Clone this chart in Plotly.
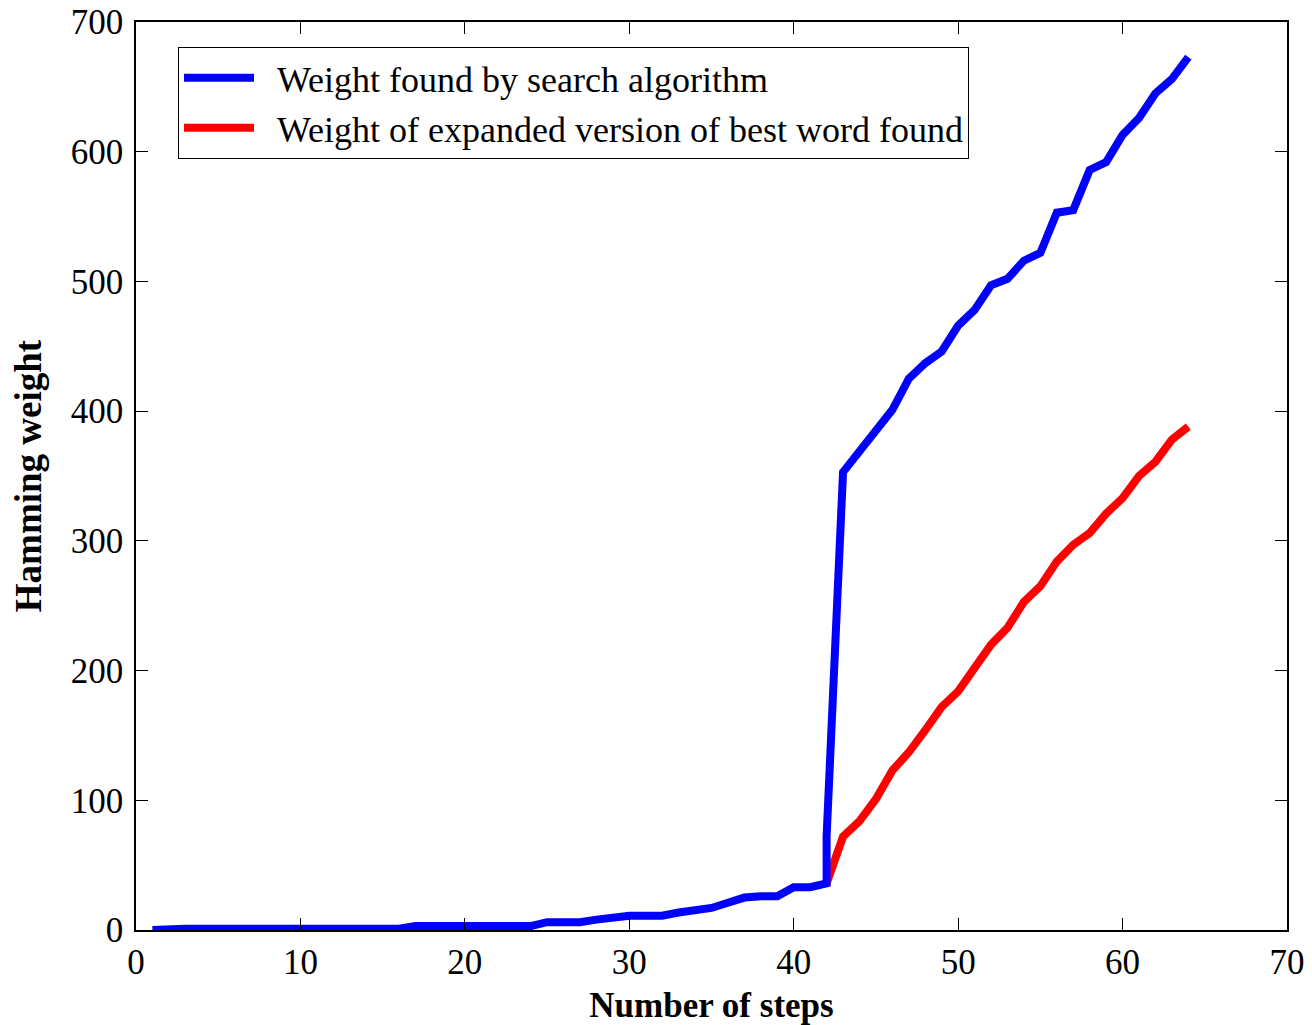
import plotly.graph_objects as go

# Blue series: weight found by search algorithm (step 42 has two samples)
blue_steps = [1, 2, 3, 4, 5, 6, 7, 8, 9, 10, 11, 12, 13, 14, 15, 16, 17, 18, 19, 20,
              21, 22, 23, 24, 25, 26, 27, 28, 29, 30, 31, 32, 33, 34, 35, 36, 37, 38, 39, 40,
              41, 42, 42, 43, 44, 45, 46, 47, 48, 49, 50, 51, 52, 53, 54, 55, 56, 57, 58, 59,
              60, 61, 62, 63, 64]
blue_weight = [0, 1, 1, 1, 1, 1, 1, 1, 1, 1, 1, 1, 1, 1, 1, 1, 3, 3, 3, 3,
               3, 3, 3, 3, 6, 6, 6, 8, 10, 11, 11, 11, 13.5, 15.5, 17, 21, 25, 26, 26, 33,
               33, 36, 72, 353, 369, 384, 401, 425, 437, 446, 466, 478, 497, 502, 516, 522, 553, 555, 586, 592,
               613, 626, 645, 656, 673]

# Red series: weight of expanded version of best word found
red_steps = [42, 43, 44, 45, 46, 47, 48, 49, 50, 51, 52, 53, 54, 55, 56, 57, 58, 59, 60, 61, 62, 63, 64]
red_weight = [36, 72, 84, 101, 123, 137, 154, 172, 184, 203, 220, 233, 253, 265, 284, 297, 306,
              321, 333, 350, 361, 378, 388]

x_ticks = [0, 10, 20, 30, 40, 50, 60, 70]
y_ticks = [0, 100, 200, 300, 400, 500, 600, 700]

serif = "Liberation Serif, Times New Roman, serif"
gap = "\u00a0\u00a0"

fig = go.Figure()
fig.add_trace(go.Scatter(
    x=red_steps, y=red_weight, mode="lines",
    name=gap + "Weight of expanded version of best word found",
    line=dict(color="#FF0000", width=8), legendrank=2,
))
fig.add_trace(go.Scatter(
    x=blue_steps, y=blue_weight, mode="lines",
    name=gap + "Weight found by search algorithm",
    line=dict(color="#0000FF", width=8), legendrank=1,
))

axis_common = dict(
    showgrid=False, zeroline=False, showline=True, linecolor="black", linewidth=1.5,
    mirror="allticks", ticks="inside", ticklen=12, tickwidth=1, tickcolor="black",
    tickfont=dict(family=serif, size=35, color="black"), automargin=False,
    ticklabeloverflow="allow",
)

fig.update_xaxes(range=[0, 70], tickvals=x_ticks, ticktext=[str(v) for v in x_ticks],
                 ticklabelstandoff=0,
                 title=dict(text="<b>Number of steps</b>",
                            font=dict(family=serif, size=35, color="black"), standoff=12),
                 **axis_common)
fig.update_yaxes(range=[0, 700], tickvals=y_ticks, ticktext=[str(v) for v in y_ticks],
                 ticklabelstandoff=4,
                 title=dict(text="<b>Hamming weight</b>",
                            font=dict(family=serif, size=37, color="black"), standoff=19),
                 **axis_common)

fig.update_layout(
    width=1312, height=1025,
    margin=dict(l=128, r=33, t=14, b=103),
    paper_bgcolor="white", plot_bgcolor="white",
    showlegend=True,
    legend=dict(
        x=0.0365, y=0.9725, xanchor="left", yanchor="top",
        bgcolor="white", bordercolor="black", borderwidth=1,
        font=dict(family=serif, size=36, color="black"),
        itemwidth=70, tracegroupgap=0,
    ),
)

fig.write_html("out.html")
